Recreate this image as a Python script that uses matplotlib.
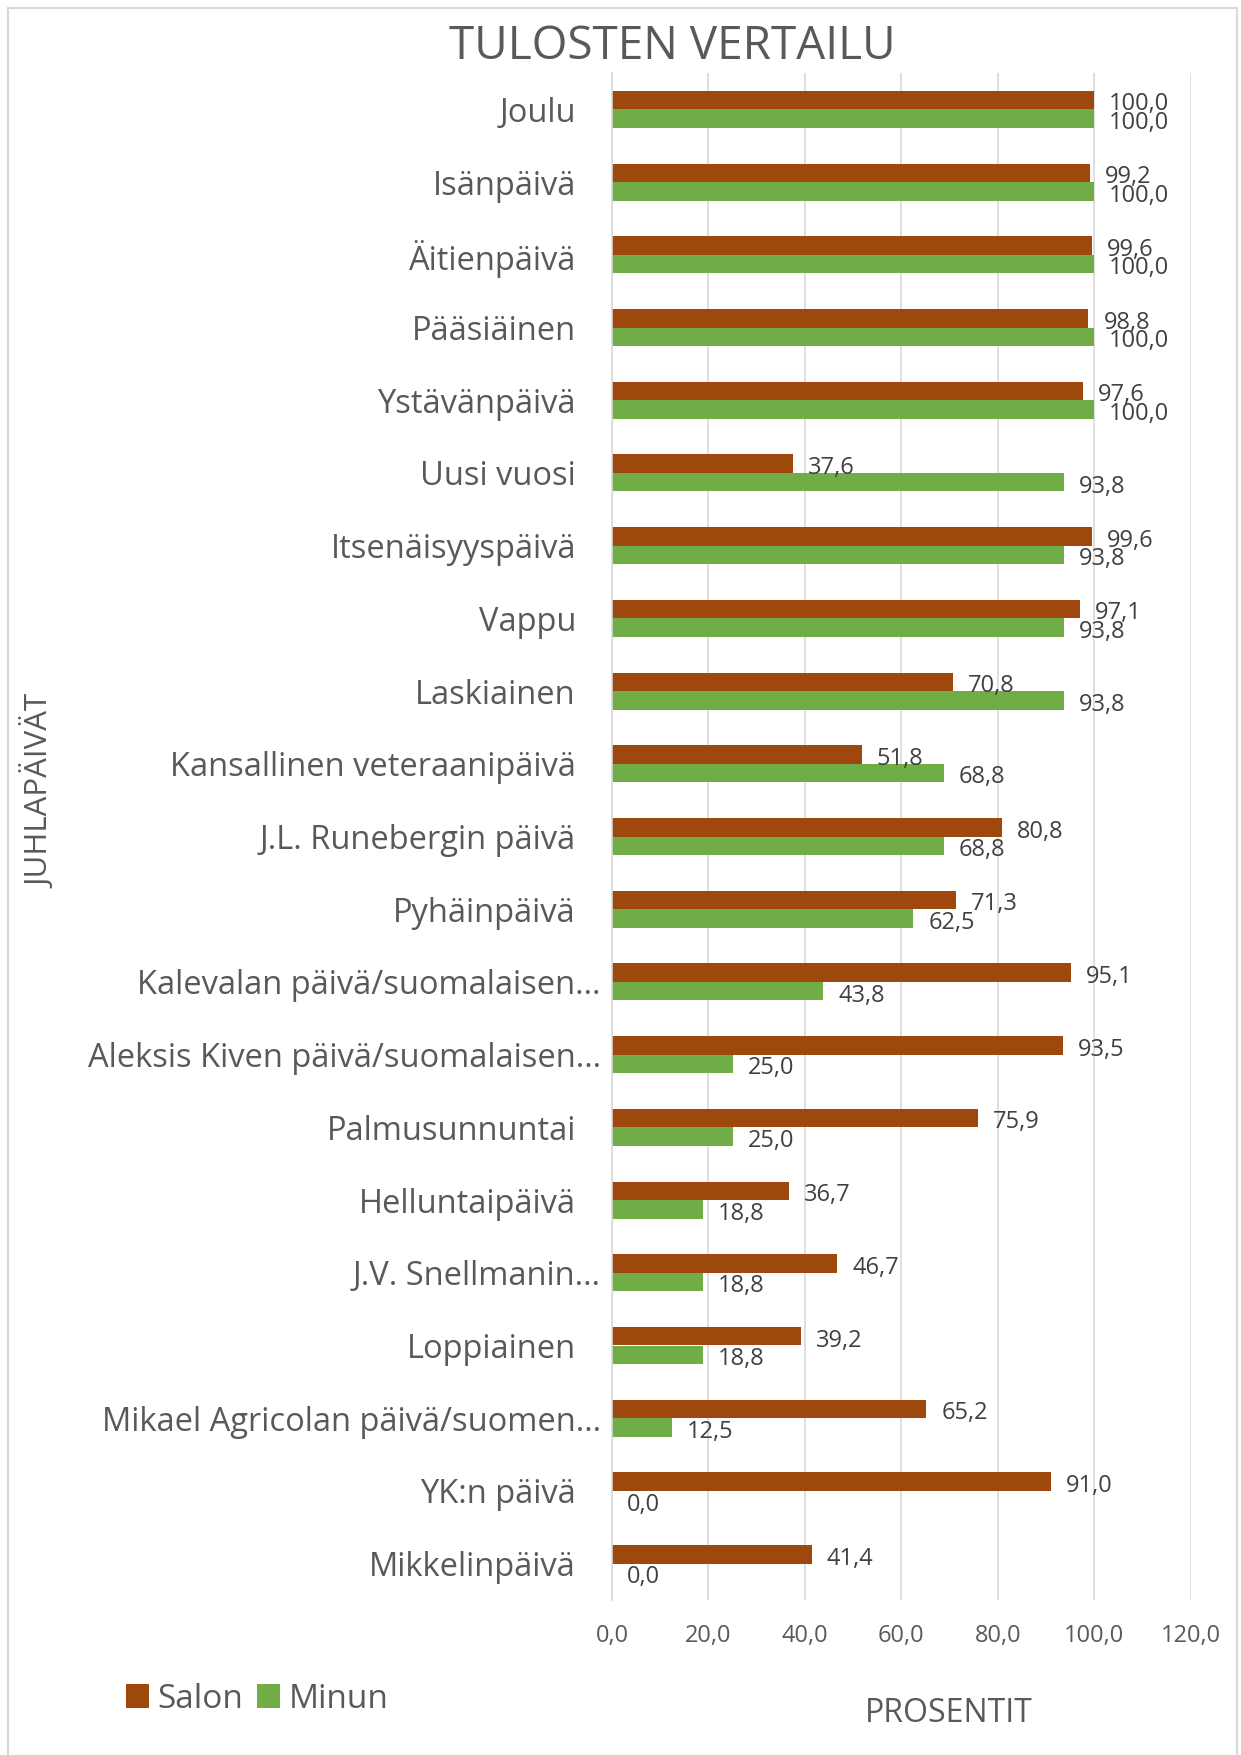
import matplotlib
matplotlib.use("Agg")
import matplotlib.pyplot as plt
import matplotlib.transforms as mtransforms
from matplotlib.lines import Line2D
import numpy as np

plt.rcParams['font.family'] = ['Open Sans', 'DejaVu Sans']

categories = [
    "Joulu", "Isänpäivä", "Äitienpäivä", "Pääsiäinen", "Ystävänpäivä",
    "Uusi vuosi", "Itsenäisyyspäivä", "Vappu", "Laskiainen",
    "Kansallinen veteraanipäivä", "J.L. Runebergin päivä", "Pyhäinpäivä",
    "Kalevalan päivä/suomalaisen…", "Aleksis Kiven päivä/suomalaisen…",
    "Palmusunnuntai", "Helluntaipäivä", "J.V. Snellmanin…", "Loppiainen",
    "Mikael Agricolan päivä/suomen…", "YK:n päivä", "Mikkelinpäivä",
]
salon = [100.0, 99.2, 99.6, 98.8, 97.6, 37.6, 99.6, 97.1, 70.8, 51.8, 80.8,
         71.3, 95.1, 93.5, 75.9, 36.7, 46.7, 39.2, 65.2, 91.0, 41.4]
minun = [100.0, 100.0, 100.0, 100.0, 100.0, 93.8, 93.8, 93.8, 93.8, 68.8,
         68.8, 62.5, 43.8, 25.0, 25.0, 18.8, 18.8, 18.8, 12.5, 0.0, 0.0]
xticks = [0, 20, 40, 60, 80, 100, 120]

C_SALON = '#9e480e'
C_MINUN = '#70ad47'
TXT = '#595959'
LBL = '#404040'
GRID = '#d9d9d9'

W, H = 1241, 1755
fig = plt.figure(figsize=(W / 100, H / 100), dpi=100)
ax = fig.add_axes([612 / W, 1 - 1600 / H, (1190.6 - 612) / W, (1600 - 73) / H])

y = np.arange(len(categories))
h = 0.255
b1 = ax.barh(y - h / 2, salon, height=h, color=C_SALON, label='Salon')
b2 = ax.barh(y + h / 2, minun, height=h, color=C_MINUN, label='Minun')

fmt = lambda v: f"{v:.1f}".replace('.', ',')
for bars, vals in ((b1, salon), (b2, minun)):
    for rect, v in zip(bars, vals):
        ax.annotate(fmt(v), xy=(rect.get_width(), rect.get_y() + rect.get_height() / 2 + 0.06),
                    xytext=(15, 0), textcoords='offset pixels',
                    va='center', ha='left', fontsize=17, color=LBL)

ax.set_xlim(0, 120)
ax.set_ylim(len(categories) - 0.5, -0.5)
ax.set_xticks(xticks)
ax.set_xticklabels([fmt(t) for t in xticks], fontsize=17, color=TXT)
ax.set_yticks(y)
ax.set_yticklabels(categories, fontsize=23.5, color=TXT)
ax.tick_params(axis='y', length=0, pad=26)
ax.tick_params(axis='x', length=0, pad=17)
ax.grid(axis='x', color=GRID, lw=1.2)
ax.set_axisbelow(True)
for s in ('top', 'right', 'bottom'):
    ax.spines[s].set_visible(False)
ax.spines['left'].set_color(GRID)
ax.spines['left'].set_linewidth(1.2)

# truncated labels sit closer to the axis
shift = mtransforms.ScaledTranslation(25 / 100, 0, fig.dpi_scale_trans)
for lab in ax.get_yticklabels():
    if lab.get_text().endswith('…'):
        lab.set_transform(lab.get_transform() + shift)

fig.text(672 / W, 1 - 47 / H, "TULOSTEN VERTAILU", ha='center', va='center',
         fontsize=33, color=TXT)
fig.text(39 / W, 1 - 791 / H, "JUHLAPÄIVÄT", rotation=90, ha='center', va='center',
         fontsize=22.5, color=TXT)
fig.text(949 / W, 1 - 1714 / H, "PROSENTIT", ha='center', va='center',
         fontsize=23, color=TXT)

leg = fig.legend(handles=[b1, b2], labels=['Salon', 'Minun'], ncol=2, frameon=False,
                 loc='center left', bbox_to_anchor=(126 / W, 1 - 1699 / H),
                 fontsize=24, handlelength=0.7, handleheight=0.7,
                 handletextpad=0.25, columnspacing=0.4, borderaxespad=0,
                 borderpad=0)
for t in leg.get_texts():
    t.set_color(TXT)

# outer chart frame
for xs, ys in (([8, 8], [H, 8]), ([8, 1237], [8, 8]), ([1237, 1237], [8, H])):
    fig.add_artist(Line2D([x / W for x in xs], [1 - v / H for v in ys],
                          color=GRID, lw=1.5, transform=fig.transFigure))

fig.savefig('out.png', dpi=100, facecolor='white')
